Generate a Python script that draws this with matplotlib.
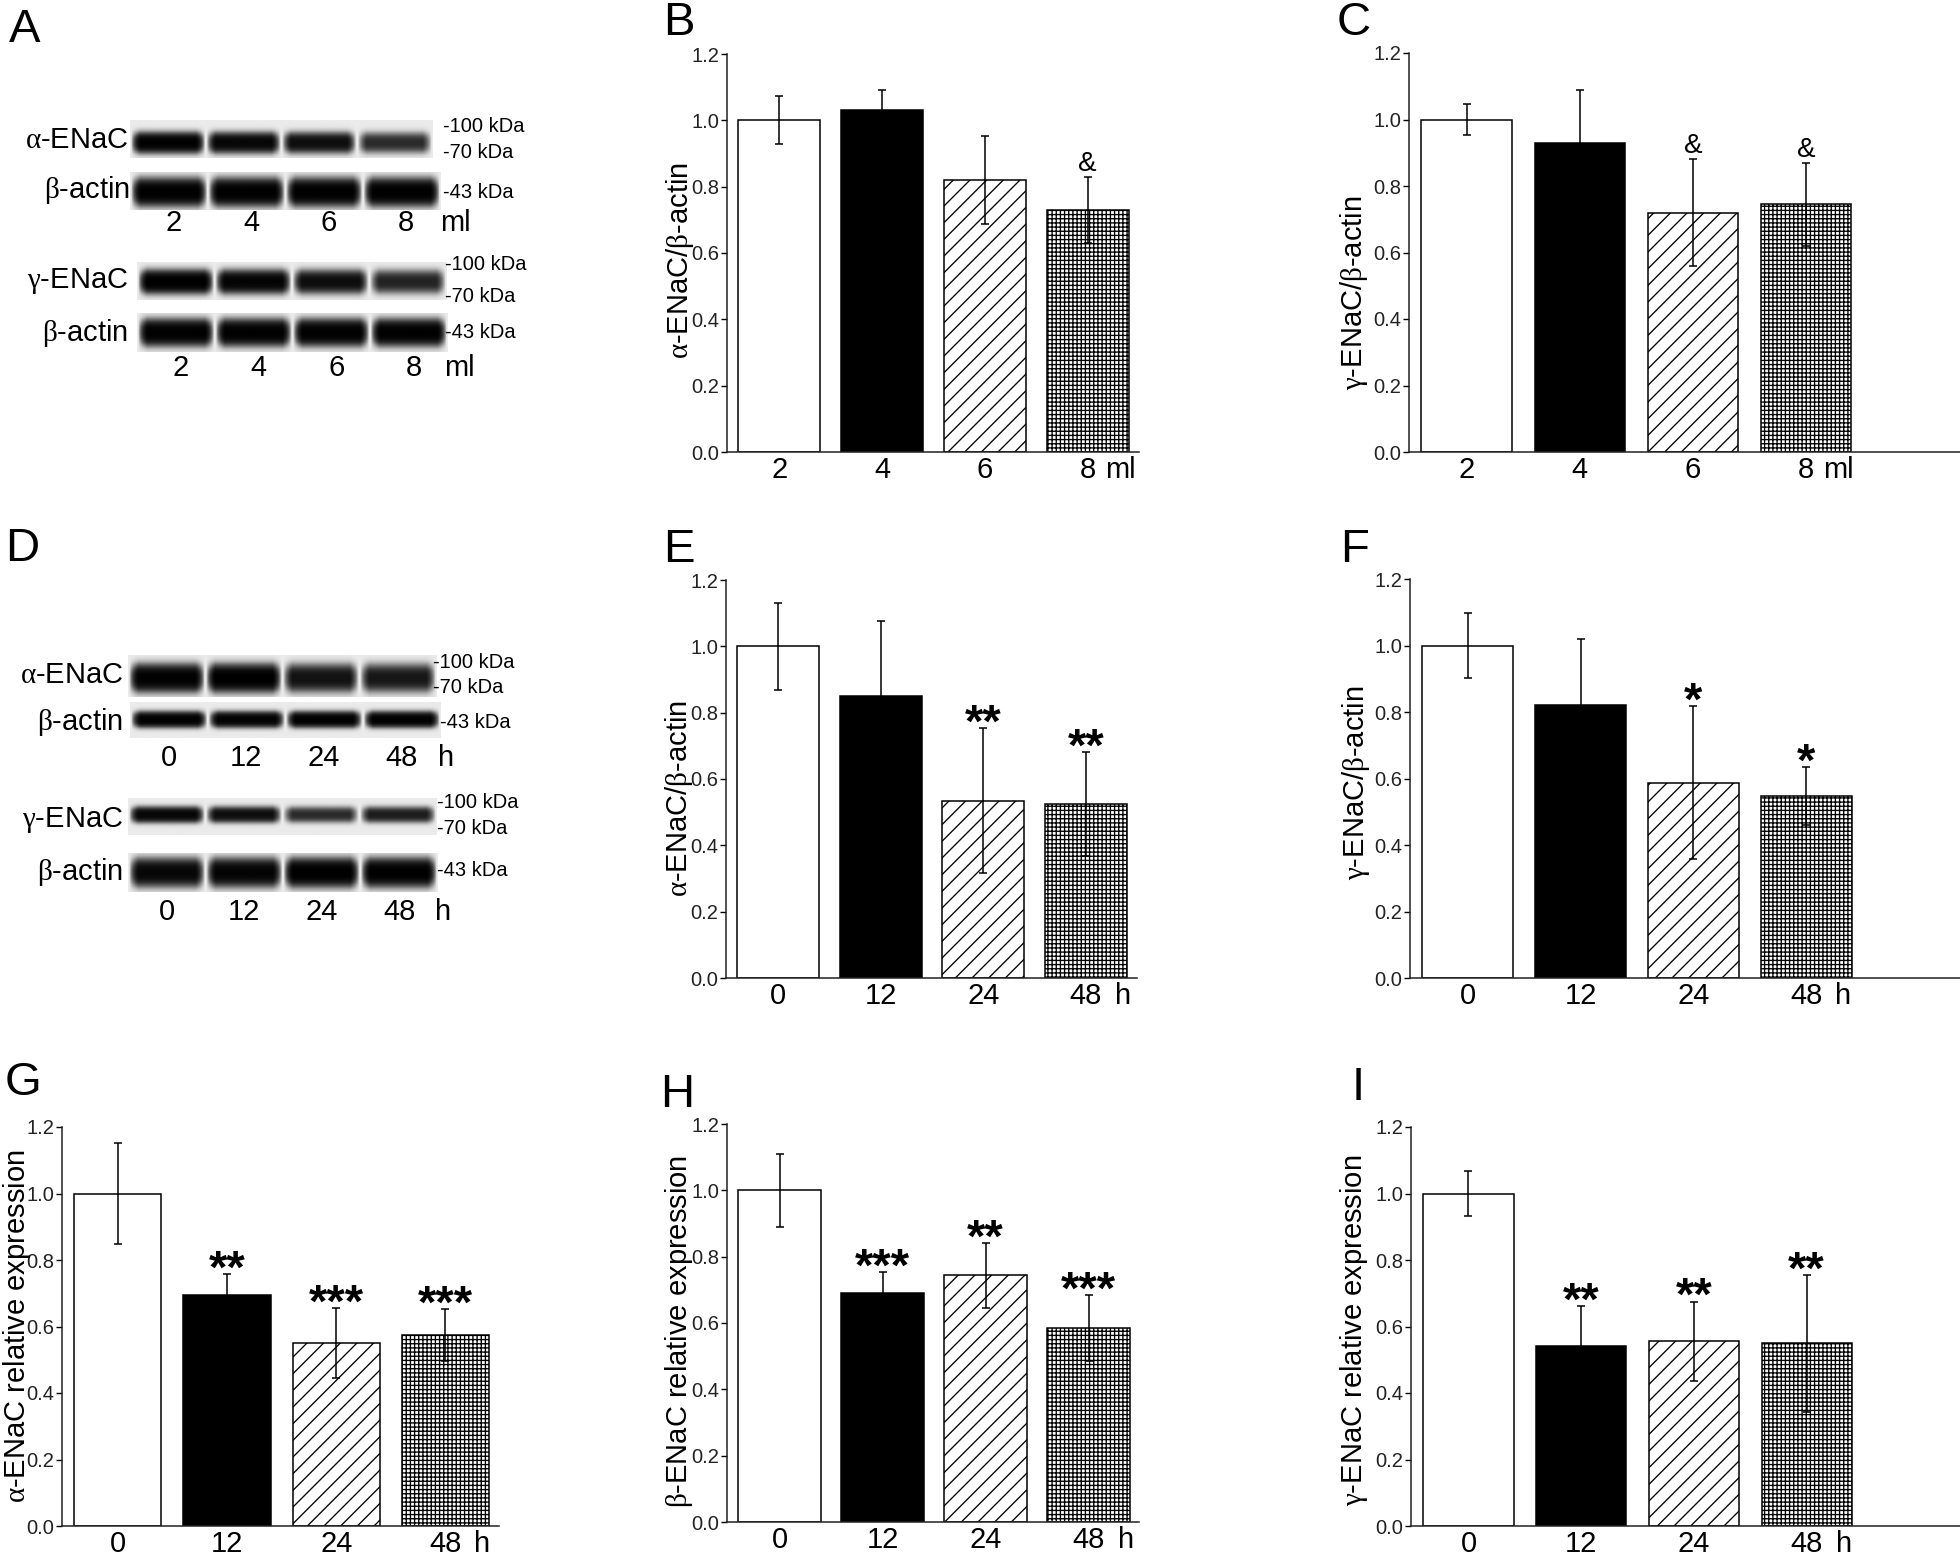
import numpy as np
import matplotlib
matplotlib.use('Agg')
import matplotlib.pyplot as plt
from matplotlib.transforms import blended_transform_factory

plt.rcParams['font.family'] = ['Liberation Sans', 'DejaVu Sans']
plt.rcParams['mathtext.fontset'] = 'custom'
plt.rcParams['mathtext.rm'] = 'Liberation Serif'
plt.rcParams['hatch.linewidth'] = 0.95

# ---- data ----
vol_labels = ['2', '4', '6', '8']
time_labels = ['0', '12', '24', '48']

b_mean = [1.00, 1.03, 0.82, 0.73]
b_err = [0.072, 0.062, 0.134, 0.10]
b_mark = ['', '', '', '&']

c_mean = [1.00, 0.93, 0.72, 0.745]
c_err = [0.047, 0.158, 0.162, 0.125]
c_mark = ['', '', '&', '&']

e_mean = [1.00, 0.85, 0.535, 0.525]
e_err = [0.132, 0.226, 0.219, 0.157]
e_mark = ['', '', '**', '**']

f_mean = [1.00, 0.82, 0.587, 0.547]
f_err = [0.098, 0.20, 0.23, 0.088]
f_mark = ['', '', '*', '*']

g_mean = [1.00, 0.695, 0.551, 0.575]
g_err = [0.151, 0.062, 0.105, 0.078]
g_mark = ['', '**', '***', '***']

h_mean = [1.00, 0.689, 0.744, 0.584]
h_err = [0.11, 0.064, 0.098, 0.10]
h_mark = ['', '***', '**', '***']

i_mean = [1.00, 0.541, 0.556, 0.549]
i_err = [0.067, 0.12, 0.119, 0.206]
i_mark = ['', '**', '**', '**']

# band strength per lane for the western blot strips
a_alpha = [0.95, 0.85, 0.75, 0.50]
a_actin1 = [0.97, 0.97, 0.97, 0.97]
a_gamma = [1.00, 0.90, 0.75, 0.55]
a_actin2 = [0.97, 0.97, 0.97, 0.97]
d_alpha = [0.95, 1.00, 0.70, 0.65]
d_actin1 = [0.95, 0.92, 0.95, 0.95]
d_gamma = [0.85, 0.75, 0.50, 0.60]
d_actin2 = [0.85, 0.90, 1.00, 0.98]

W, H = 1960, 1556
fig = plt.figure(figsize=(W / 100, H / 100), dpi=100)

ALPHA = r'$\mathrm{\alpha}$'
BETA = r'$\mathrm{\beta}$'
GAMMA = r'$\mathrm{\gamma}$'


def px_axes(x0, y0, x1, y1):
    return fig.add_axes([x0 / W, 1 - y1 / H, (x1 - x0) / W, (y1 - y0) / H])


def ptext(x, y, s, **kw):
    fig.text(x / W, 1 - y / H, s, **kw)


def blot(rect, levels, center, half):
    ax = px_axes(*rect)
    xs = np.linspace(0, len(levels), 320)
    ys = np.linspace(0, 1, 48)
    X, Y = np.meshgrid(xs, ys)
    lane = np.clip(np.floor(X).astype(int), 0, len(levels) - 1)
    u = X - lane
    edge = np.clip((u - 0.01) / 0.12, 0, 1) * np.clip((0.99 - u) / 0.12, 0, 1)
    band = np.exp(-np.abs((Y - center) / half) ** 2.5)
    dark = np.array(levels)[lane] * edge * band
    dark = (1 - np.exp(-3 * dark)) / (1 - np.exp(-3))
    img = 0.92 * (1 - dark)
    ax.imshow(img, cmap='gray', vmin=0, vmax=1, aspect='auto',
              extent=(0, len(levels), 1, 0), interpolation='bilinear')
    ax.set_xlim(0, len(levels))
    ax.set_ylim(1, 0)
    ax.axis('off')
    return ax


def lane_labels(rect, labels, unit, y, unit_x, shift=5):
    x0, _, x1, _ = rect
    step = (x1 - x0) / len(labels)
    for k, lab in enumerate(labels):
        ptext(x0 + (k + 0.5) * step + shift, y, lab, ha='center', va='center', fontsize=21)
    ptext(unit_x, y, unit, ha='left', va='center', fontsize=21)


def bar_panel(rect, cats, means, errs, marks, ylabel, unit, xmax, lab_off, lab_y):
    ax = px_axes(*rect)
    x = np.arange(len(cats))
    fills = ['white', 'black', 'white', 'white']
    hatches = [None, None, '//', '++++']
    for k in range(len(cats)):
        ax.bar(x[k], means[k], width=0.8, color=fills[k], edgecolor='black',
               linewidth=1.1, hatch=hatches[k], zorder=2)
    ax.errorbar(x, means, yerr=errs, fmt='none', ecolor='black', elinewidth=1.1,
                capsize=3, capthick=1.1, zorder=3)
    for k, m in enumerate(marks):
        top = means[k] + errs[k]
        if m == '&':
            ax.text(x[k], top + 0.016, m, ha='center', va='baseline', fontsize=20)
        elif m:
            ax.text(x[k], top - 0.026, m, ha='center', va='baseline', fontsize=34,
                    fontweight='bold')
    ax.set_xlim(-0.51, xmax)
    ax.set_ylim(0, 1.2)
    ax.set_yticks(np.arange(0, 1.21, 0.2))
    ax.set_yticklabels([f'{v:.1f}' for v in np.arange(0, 1.21, 0.2)])
    ax.set_xticks(x)
    ax.set_xticklabels(cats)
    ax.tick_params(axis='y', direction='out', length=4, width=1, pad=1.5,
                   labelsize=14.5, labelcolor='#222222')
    ax.tick_params(axis='x', length=0, pad=3, labelsize=21)
    for s in ['top', 'right']:
        ax.spines[s].set_visible(False)
    for s in ['left', 'bottom']:
        ax.spines[s].set_linewidth(1.1)
        ax.spines[s].set_color('#222222')
    # unit sits to the right of the last category label
    shift_px = 17 if unit == 'ml' else 29
    tr = blended_transform_factory(ax.transData, ax.transAxes)
    ax.annotate(unit, xy=(x[-1], 0), xycoords=tr, xytext=(shift_px * 0.72, -3),
                textcoords='offset points', ha='left', va='top', fontsize=21)
    width = rect[2] - rect[0]
    ax.text(-lab_off / width, lab_y, ylabel, rotation=90, ha='center', va='center',
            fontsize=21, transform=ax.transAxes)
    return ax


# ---- panel A: blots ----
ra1 = (130, 120, 433, 158)
ra2 = (130, 172, 440, 210)
ra3 = (137, 262, 447, 300)
ra4 = (137, 313, 448, 352)
blot(ra1, a_alpha, 0.6, 0.24)
blot(ra2, a_actin1, 0.53, 0.32)
blot(ra3, a_gamma, 0.52, 0.27)
blot(ra4, a_actin2, 0.5, 0.30)
for y, s, xr in [(140, ALPHA + '-ENaC', 128), (190, BETA + '-actin', 130),
                 (281, GAMMA + '-ENaC', 128), (333, BETA + '-actin', 128)]:
    ptext(xr, y, s, ha='right', va='center', fontsize=21)
for x, y, s in [(443, 127, '-100 kDa'), (443, 152, '-70 kDa'), (443, 192, '-43 kDa'),
                (445, 265, '-100 kDa'), (445, 296, '-70 kDa'), (445, 333, '-43 kDa')]:
    ptext(x, y, s, ha='left', va='center', fontsize=14.5)
lane_labels(ra2, vol_labels, 'ml', 223, 440)
lane_labels(ra4, vol_labels, 'ml', 368, 444)

# ---- panel D: blots ----
rd1 = (128, 655, 437, 697)
rd2 = (130, 702, 440, 738)
rd3 = (128, 798, 437, 835)
rd4 = (128, 853, 438, 892)
blot(rd1, d_alpha, 0.55, 0.29)
blot(rd2, d_actin1, 0.5, 0.19)
blot(rd3, d_gamma, 0.45, 0.19)
blot(rd4, d_actin2, 0.5, 0.32)
for y, s in [(675, ALPHA + '-ENaC'), (722, BETA + '-actin'),
             (820, GAMMA + '-ENaC'), (872, BETA + '-actin')]:
    ptext(123, y, s, ha='right', va='center', fontsize=21)
for x, y, s in [(433, 663, '-100 kDa'), (433, 687, '-70 kDa'), (440, 722, '-43 kDa'),
                (437, 803, '-100 kDa'), (437, 828, '-70 kDa'), (437, 870, '-43 kDa')]:
    ptext(x, y, s, ha='left', va='center', fontsize=14.5)
lane_labels(rd2, time_labels, 'h', 758, 438, shift=0)
lane_labels(rd4, time_labels, 'h', 912, 435, shift=0)

# ---- bar panels ----
bar_panel((727, 54, 1139, 452), vol_labels, b_mean, b_err, b_mark,
          ALPHA + '-ENaC/' + BETA + '-actin', 'ml', 3.5, 47, 0.48)
bar_panel((1409, 53, 1960, 452), vol_labels, c_mean, c_err, c_mark,
          GAMMA + '-ENaC/' + BETA + '-actin', 'ml', 4.36, 55, 0.40)
bar_panel((726, 580, 1137, 978), time_labels, e_mean, e_err, e_mark,
          ALPHA + '-ENaC/' + BETA + '-actin', 'h', 3.5, 47, 0.45)
bar_panel((1410, 579, 1960, 978), time_labels, f_mean, f_err, f_mark,
          GAMMA + '-ENaC/' + BETA + '-actin', 'h', 4.36, 54, 0.49)
bar_panel((62, 1127, 499, 1526), time_labels, g_mean, g_err, g_mark,
          ALPHA + '-ENaC relative expression', 'h', 3.49, 45, 0.5)
bar_panel((727, 1124, 1139, 1522), time_labels, h_mean, h_err, h_mark,
          BETA + '-ENaC relative expression', 'h', 3.49, 48, 0.48)
bar_panel((1411, 1127, 1960, 1526), time_labels, i_mean, i_err, i_mark,
          GAMMA + '-ENaC relative expression', 'h', 4.36, 57, 0.49)

# ---- panel letters ----
for x, y, s in [(25, 30, 'A'), (679, 23, 'B'), (1354, 23, 'C'),
                (22, 549, 'D'), (679, 550, 'E'), (1355, 550, 'F'),
                (23, 1083, 'G'), (677, 1095, 'H'), (1358, 1088, 'I')]:
    ptext(x, y, s, ha='center', va='center', fontsize=34)

fig.savefig('out.png', dpi=100, facecolor='white')
